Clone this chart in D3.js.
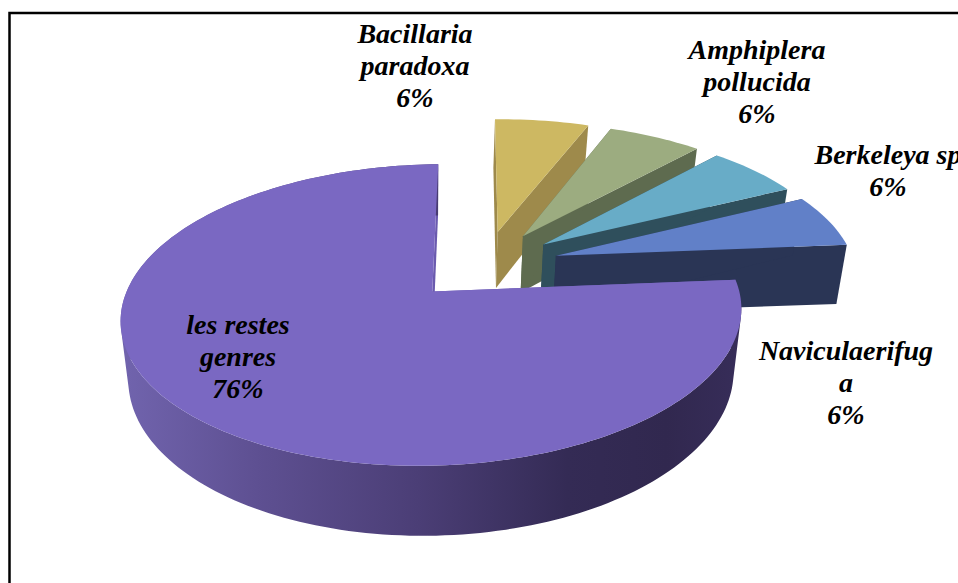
<!DOCTYPE html>
<html>
<head>
<meta charset="utf-8">
<script src="https://cdn.jsdelivr.net/npm/d3@7"></script>
<style>
  html, body { margin: 0; padding: 0; background: #fff; overflow: hidden; }
  svg { display: block; }
  text { font-family: "Liberation Serif", serif; font-weight: bold; font-style: italic; font-size: 28px; fill: #000; text-anchor: middle; }
</style>
</head>
<body>
<div class="pie-graph"></div>
<script>
var w = 958, h = 583;

// pie data, clockwise from twelve o'clock
var categories = ["Bacillaria paradoxa", "Amphiplera pollucida", "Berkeleya sp", "Naviculaerifuga", "les restes genres"];
var values = [6, 6, 6, 6, 76];

// label lines as wrapped on the chart
var labelLines = [["Bacillaria", "paradoxa"], ["Amphiplera", "pollucida"], ["Berkeleya sp"], ["Naviculaerifug", "a"], ["les restes", "genres"]];
var labelX = [415, 757, 888, 846, 238];
var labelY = [43, 59, 164, 360, 334];
var lineGap = 32;

var topColor = d3.scaleOrdinal().domain(categories).range(["#CDB862", "#9CAC80", "#68ACC7", "#6180C8", "#7A68C2"]);
var wallColor = d3.scaleOrdinal().domain(categories).range(["#9E8A4B", "#5E6B4F", "#2F4F5C", "#2A3555", "#6A5AAE"]);

// tilted view of the unit disc
var centerX = 484.5, centerY = 265.4;
var radiusX = 298, radiusY = 139;
var camera = 6.6, wallHeight = 57.5, converge = 0.025, vanishX = 430;
var explode = 0.25, roll = 0.007;
var startAngle = -0.004;

function persp(y) { return camera / (camera + y); }
function flatPoint(p) {
    return [centerX + radiusX * p[0] * persp(p[1]), centerY - radiusY * p[1] * persp(p[1])];
}
function topPoint(p) {
    var t = flatPoint(p);
    return [t[0], t[1] - (t[0] - vanishX) * roll];
}
function bottomPoint(p) {
    var t = flatPoint(p);
    return [t[0] + (vanishX - t[0]) * converge, t[1] + wallHeight * persp(p[1])];
}

var line = d3.line();
var pie = d3.pie().sort(null).startAngle(startAngle).endAngle(startAngle + 2 * Math.PI);

var svg = d3.select(".pie-graph")
    .append("svg")
    .attr("width", w)
    .attr("height", h);

var defs = svg.append("defs");
var sideGrad = defs.append("linearGradient")
    .attr("id", "sideGrad")
    .attr("gradientUnits", "userSpaceOnUse")
    .attr("x1", 120).attr("x2", 741).attr("y1", 0).attr("y2", 0);
sideGrad.selectAll("stop")
    .data([[0, "#7164AE"], [0.22, "#5E5092"], [0.48, "#4B3E76"], [0.72, "#342B55"], [0.88, "#31284F"], [1, "#372D59"]])
    .enter()
    .append("stop")
    .attr("offset", function(d) { return d[0]; })
    .attr("stop-color", function(d) { return d[1]; });

svg.append("rect")
    .attr("x", 9.5)
    .attr("y", 13)
    .attr("width", 1000)
    .attr("height", 1000)
    .attr("fill", "#fff")
    .attr("stroke", "#000")
    .attr("stroke-width", 2.5);

var slices = pie(values).map(function(d, i) {
    var mid = (d.startAngle + d.endAngle) / 2;
    var apex = [explode * Math.sin(mid), explode * Math.cos(mid)];
    var steps = Math.max(8, Math.round((d.endAngle - d.startAngle) * 40));
    var rim = d3.range(steps + 1).map(function(k) {
        var a = d.startAngle + (d.endAngle - d.startAngle) * k / steps;
        return [apex[0] + Math.sin(a), apex[1] + Math.cos(a)];
    });
    return { key: categories[i], apex: apex, rim: rim, big: d.endAngle - d.startAngle > Math.PI };
});

// strip of quads all wound the same way, so the silhouette fills without holes
function rimWall(rim) {
    return d3.range(rim.length - 1).map(function(k) {
        var quad = [topPoint(rim[k]), topPoint(rim[k + 1]), bottomPoint(rim[k + 1]), bottomPoint(rim[k])];
        if (d3.polygonArea(quad) < 0) quad.reverse();
        return line(quad) + "Z";
    }).join("");
}

// painted far to near, so each slice hides the lower part of the one behind
var g = svg.selectAll(".pie")
    .data(slices)
    .enter()
    .append("g")
    .attr("class", "pie");

// radial walls
g.append("path")
    .attr("fill", function(d) { return wallColor(d.key); })
    .attr("d", function(d) {
        var last = d.rim[d.rim.length - 1];
        return line([topPoint(d.apex), topPoint(last), bottomPoint(last), bottomPoint(d.apex)]) + "Z";
    });
g.append("path")
    .attr("fill", function(d) { return wallColor(d.key); })
    .attr("d", function(d) {
        var first = d.rim[0];
        return line([topPoint(d.apex), topPoint(first), bottomPoint(first), bottomPoint(d.apex)]) + "Z";
    });

// outer rim wall, only the large slice faces the viewer
g.filter(function(d) { return d.big; })
    .append("path")
    .attr("fill", "url(#sideGrad)")
    .attr("d", function(d) { return rimWall(d.rim); });

// top faces
g.append("path")
    .attr("fill", function(d) { return topColor(d.key); })
    .attr("d", function(d) {
        return line([topPoint(d.apex)].concat(d.rim.map(topPoint))) + "Z";
    });

var labels = svg.selectAll(".label")
    .data(categories)
    .enter()
    .append("text")
    .attr("class", "label");

labels.selectAll("tspan")
    .data(function(d, i) {
        return labelLines[i].concat(values[i] + "%").map(function(s, k) {
            return { s: s, x: labelX[i], y: labelY[i] + k * lineGap };
        });
    })
    .enter()
    .append("tspan")
    .attr("x", function(d) { return d.x; })
    .attr("y", function(d) { return d.y; })
    .text(function(d) { return d.s; });
</script>
</body>
</html>
